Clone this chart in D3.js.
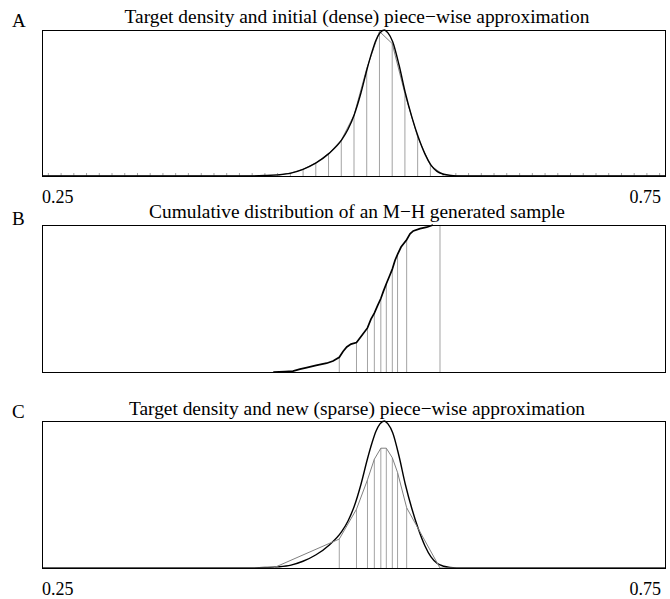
<!DOCTYPE html>
<html>
<head>
<meta charset="utf-8">
<script src="https://cdn.jsdelivr.net/npm/d3@7"></script>
<style>
body { margin: 0; background: #fff; }
text { font-family: "Liberation Serif", "Times New Roman", serif; fill: #000; }
</style>
</head>
<body>
<div id="chart"></div>
<script>
w = 670;
h = 599;
left = 42;			// left edge of the boxes
right = 666;		// right edge of the boxes

// panel titles and letters
titles = ["Target density and initial (dense) piece\u2212wise approximation",
          "Cumulative distribution of an M\u2212H generated sample",
          "Target density and new (sparse) piece\u2212wise approximation"];
letters = ["A", "B", "C"];
axisLabels = [0.25, 0.75];

// target density (relative to its peak)
targetX = [0.25, 0.4167, 0.4287, 0.4391, 0.4495, 0.4591, 0.4696, 0.4800, 0.4901, 0.4952, 0.5002,
           0.5056, 0.5107, 0.5144, 0.5176, 0.5208, 0.5243, 0.5272, 0.5310, 0.5361, 0.5411,
           0.5465, 0.5515, 0.5569, 0.5617, 0.5665, 0.5719, 0.5769, 0.5823, 0.5929, 0.75];
targetY = [0, 0, 0.003, 0.008, 0.02, 0.046, 0.09, 0.155, 0.247, 0.32, 0.42,
           0.57, 0.74, 0.85, 0.93, 0.98, 1.0, 0.98, 0.92, 0.76, 0.57,
           0.40, 0.267, 0.15, 0.075, 0.032, 0.012, 0.004, 0.001, 0, 0];

// initial dense grid and its piece-wise values
denseNodes = [0.2551, 0.2653, 0.2755, 0.2857, 0.2959, 0.3061, 0.3163, 0.3265, 0.3367, 0.3469,
              0.3571, 0.3673, 0.3776, 0.3878, 0.3980, 0.4082, 0.4184, 0.4286, 0.4388, 0.4490,
              0.4592, 0.4694, 0.4796, 0.4898, 0.5000, 0.5102, 0.5204, 0.5306, 0.5408, 0.5510,
              0.5612, 0.5714, 0.5816, 0.5918, 0.6020, 0.6122, 0.6224, 0.6327, 0.6429, 0.6531,
              0.6633, 0.6735, 0.6837, 0.6939, 0.7041, 0.7143, 0.7245, 0.7347, 0.7449];
denseVals = [0, 0, 0, 0, 0, 0, 0, 0, 0, 0,
             0, 0, 0, 0, 0, 0, 0.001, 0.003, 0.007, 0.02,
             0.046, 0.089, 0.153, 0.245, 0.416, 0.736, 0.99, 0.907, 0.564, 0.267,
             0.073, 0.01, 0.002, 0, 0, 0, 0, 0, 0, 0,
             0, 0, 0, 0, 0, 0, 0, 0, 0];

// empirical cdf of the M-H sample
cdfX = [0.4353, 0.4447, 0.4511, 0.4567, 0.4621, 0.4696, 0.4781, 0.4832, 0.4882, 0.4912, 0.4942,
        0.4976, 0.5020, 0.5064, 0.5108, 0.5136, 0.5163, 0.5188, 0.5215, 0.5236, 0.5259,
        0.5283, 0.5307, 0.5329, 0.5349, 0.5377, 0.5422, 0.5449, 0.5475, 0.5529, 0.5583, 0.5633];
cdfY = [0, 0.003, 0.006, 0.02, 0.03, 0.045, 0.06, 0.075, 0.1, 0.14, 0.17,
        0.19, 0.2, 0.25, 0.3, 0.36, 0.4, 0.45, 0.5, 0.55, 0.6,
        0.65, 0.7, 0.76, 0.8, 0.85, 0.9, 0.94, 0.96, 0.975, 0.985, 1.0];

// new sparse grid (sample deciles)
sparseNodes = [0.4882, 0.5020, 0.5108, 0.5163, 0.5215, 0.5259, 0.5307, 0.5349, 0.5422, 0.5689];
deciles = [0.1, 0.2, 0.3, 0.4, 0.5, 0.6, 0.7, 0.8, 0.9, 1.0];
sparseX = [0.25, 0.4353, 0.4882, 0.5020, 0.5108, 0.5163, 0.5215, 0.5259, 0.5307, 0.5349, 0.5422, 0.5689, 0.75];
sparseY = [0, 0, 0.197, 0.40, 0.60, 0.74, 0.815, 0.815, 0.75, 0.65, 0.41, 0, 0];

panels = [{top: 30, bottom: 176, titleY: 23, letterY: 26.5},
          {top: 225, bottom: 372, titleY: 218, letterY: 225},
          {top: 421, bottom: 568, titleY: 415, letterY: 418}];

var svg = d3.select("#chart").append("svg")
	.attr("width", w)
	.attr("height", h);

xScale = d3.scaleLinear()
			.domain([0.25, 0.75])
			.range([left, right]);

var grey = "#a3a3a3";

panels.forEach(function(p, i) {
	p.y = d3.scaleLinear().domain([0, 1]).range([p.bottom, p.top]);

	svg.append("text")
		.attr("x", 357)
		.attr("y", p.titleY)
		.attr("text-anchor", "middle")
		.style("font-size", "19.4px")
		.text(titles[i]);

	svg.append("text")
		.attr("x", 12)
		.attr("y", p.letterY)
		.style("font-size", "19px")
		.text(letters[i]);
});

function pts(xs, ys) {
	return xs.map(function(x, i) { return [x, ys[i]]; });
}

// ---- panel A
var pA = panels[0];
var lineA = d3.line()
	.x(function(d) { return xScale(d[0]); })
	.y(function(d) { return pA.y(d[1]); });

svg.append("g").selectAll("line")
	.data(pts(denseNodes, denseVals))
	.enter().append("line")
	.attr("x1", function(d) { return xScale(d[0]); })
	.attr("x2", function(d) { return xScale(d[0]); })
	.attr("y1", pA.bottom)
	.attr("y2", function(d) { return Math.min(pA.y(d[1]), pA.bottom - 3); })
	.style("stroke", grey)
	.style("stroke-width", 1);

svg.append("path")
	.datum(pts([0.25].concat(denseNodes, [0.75]), [0].concat(denseVals, [0])))
	.attr("d", lineA)
	.style("fill", "none")
	.style("stroke", "#808080")
	.style("stroke-width", 1);

svg.append("path")
	.datum(pts(targetX, targetY))
	.attr("d", lineA.curve(d3.curveMonotoneX))
	.style("fill", "none")
	.style("stroke", "#000")
	.style("stroke-width", 1.4);

// ---- panel B
var pB = panels[1];
svg.append("g").selectAll("line")
	.data(pts(sparseNodes, deciles))
	.enter().append("line")
	.attr("x1", function(d) { return xScale(d[0]); })
	.attr("x2", function(d) { return xScale(d[0]); })
	.attr("y1", pB.bottom)
	.attr("y2", function(d) { return pB.y(d[1]); })
	.style("stroke", grey)
	.style("stroke-width", 1);

svg.append("path")
	.datum(pts(cdfX, cdfY))
	.attr("d", d3.line()
		.x(function(d) { return xScale(d[0]); })
		.y(function(d) { return pB.y(d[1]); }))
	.style("fill", "none")
	.style("stroke", "#000")
	.style("stroke-width", 1.7);

// ---- panel C
var pC = panels[2];
var lineC = d3.line()
	.x(function(d) { return xScale(d[0]); })
	.y(function(d) { return pC.y(d[1]); });

svg.append("g").selectAll("line")
	.data(pts(sparseX, sparseY).filter(function(d) { return d[1] > 0; }))
	.enter().append("line")
	.attr("x1", function(d) { return xScale(d[0]); })
	.attr("x2", function(d) { return xScale(d[0]); })
	.attr("y1", pC.bottom)
	.attr("y2", function(d) { return pC.y(d[1]); })
	.style("stroke", grey)
	.style("stroke-width", 1);

svg.append("path")
	.datum(pts(targetX, targetY))
	.attr("d", lineC.curve(d3.curveMonotoneX))
	.style("fill", "none")
	.style("stroke", "#000")
	.style("stroke-width", 1.4);

svg.append("path")
	.datum(pts(sparseX, sparseY))
	.attr("d", lineC.curve(d3.curveLinear))
	.style("fill", "none")
	.style("stroke", "#808080")
	.style("stroke-width", 1);

// boxes on top
panels.forEach(function(p) {
	svg.append("rect")
		.attr("x", left + 0.5)
		.attr("y", p.top + 0.5)
		.attr("width", right - left - 1)
		.attr("height", p.bottom - p.top)
		.style("fill", "none")
		.style("stroke", "#000")
		.style("stroke-width", 1);
});

// end labels under A and C
[panels[0], panels[2]].forEach(function(p) {
	var yy = p.bottom + 27;
	svg.append("text")
		.attr("x", xScale(axisLabels[0]))
		.attr("y", yy)
		.style("font-size", "18px")
		.text(axisLabels[0].toFixed(2));
	svg.append("text")
		.attr("x", xScale(axisLabels[1]) - 5)
		.attr("y", yy)
		.attr("text-anchor", "end")
		.style("font-size", "18px")
		.text(axisLabels[1].toFixed(2));
});
</script>
</body>
</html>
